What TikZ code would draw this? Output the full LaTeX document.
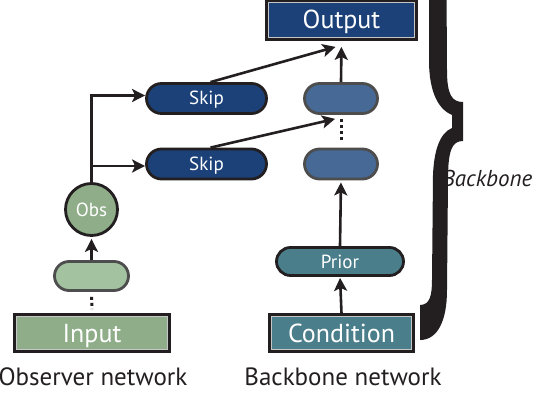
\documentclass[tikz,border=0pt]{standalone}
\usepackage{fontspec}
\setmainfont{PT Sans}
\usetikzlibrary{shapes.misc,shapes.geometric,arrows.meta,calc}
\definecolor{linec}{RGB}{35,31,32}
\definecolor{dkblue}{RGB}{27,65,120}
\definecolor{mdblue}{RGB}{70,105,150}
\definecolor{teal}{RGB}{75,126,139}
\definecolor{dkgreen}{RGB}{142,173,136}
\definecolor{ltgreen}{RGB}{163,195,160}
\definecolor{greyb}{RGB}{77,77,77}
\begin{document}
\begin{tikzpicture}[x=1pt,y=-1pt,
  lnk/.style={draw=linec, line width=2.6pt, -{Stealth[length=13pt,width=13pt,inset=3pt]}},
  dotline/.style={draw=linec, line width=3pt, dash pattern=on 3pt off 3pt},
  boxnode/.style={rectangle, draw=linec, line width=2.8pt, inner sep=0pt, text=white,
     font=\fontsize{26}{26}\selectfont, text height=18pt, text depth=0pt,
     path picture={\draw[gray!45,line width=0.9pt]
       ([shift={(2pt,-2pt)}]path picture bounding box.north west) rectangle
       ([shift={(-2pt,2pt)}]path picture bounding box.south east);}},
  pillnode/.style={rounded rectangle, draw=linec, line width=2.8pt, inner sep=0pt, text=white,
     font=\fontsize{19}{19}\selectfont, text height=13pt, text depth=0pt},
  caption/.style={font=\fontsize{25}{25}\selectfont, text=linec, inner sep=0pt}
]
\useasboundingbox (0,0) rectangle (544,420);
% nodes
\node[boxnode, fill=dkblue, minimum width=150pt, minimum height=39pt] (out) at (341.5,20) {Output};
\node[pillnode, fill=dkblue, minimum width=120pt, minimum height=30pt] (skip1) at (206.5,98.5) {Skip};
\node[pillnode, fill=dkblue, minimum width=120pt, minimum height=30pt] (skip2) at (206.5,164) {Skip};
\node[pillnode, fill=mdblue, draw=greyb, minimum width=73pt, minimum height=30pt] (b1) at (341,98.5) {};
\node[pillnode, fill=mdblue, draw=greyb, minimum width=73pt, minimum height=30pt] (b2) at (341,164) {};
\node[pillnode, fill=teal, minimum width=127pt, minimum height=28pt] (prior) at (340,261.5) {Prior};
\node[boxnode, fill=teal, minimum width=144pt, minimum height=37pt] (cond) at (341.5,333) {Condition};
\node[boxnode, fill=dkgreen, minimum width=155pt, minimum height=37pt] (inp) at (92,333) {Input};
\node[pillnode, fill=ltgreen, draw=greyb, minimum width=74pt, minimum height=29pt] (gp) at (91.5,276) {};
\node[circle, draw=linec, line width=2.8pt, fill=dkgreen, minimum size=52pt, inner sep=0pt,
      text=white, font=\fontsize{19}{19}\selectfont, text height=13pt, text depth=0pt] (obs) at (91.5,209.5) {Obs};
% captions
\node[caption] (capo) at (93,377) {Observer network};
\node[caption] (capb) at (343,377) {Backbone network};
\node[caption, font=\fontsize{23}{23}\selectfont\itshape, anchor=west] (bb) at (442,178) {Backbone};
% connectors
\draw[lnk] (obs.north) |- ($(skip1.west)+(0,-3)$);
\draw[lnk] (obs.north) |- ($(skip2.west)+(0,2)$);
\draw[lnk] ($(skip1.north)+(4,0)$) -- ($(out.south)+(-6,6)$);
\draw[lnk, shorten >=6pt] (b1.north) -- (out.south);
\draw[lnk] ($(skip2.north)+(4,0)$) -- ($(b1.south)+(-6,4)$);
\draw[dotline, shorten <=4.5pt, shorten >=6pt] (b1.south) -- (b2.north);
\draw[lnk, shorten >=2pt] (prior.north) -- (b2.south);
\draw[lnk, shorten >=1pt] (cond.north) -- (prior.south);
\draw[lnk, shorten >=2pt] (gp.north) -- (obs.south);
\draw[dotline, shorten <=5pt, shorten >=4pt] (gp.south) -- (inp.north);
% brace
\fill[linec] (429,-100) -- (429,60)
  .. controls (429,95) and (440,110) .. (452,115)
  -- (452,128)
  .. controls (440,133) and (434,150) .. (433,175)
  -- (432,280)
  .. controls (432,295) and (430,305) .. (420,305)
  -- (420,340)
  .. controls (438,340) and (447,320) .. (447,290)
  -- (448,180)
  .. controls (448,150) and (452,141) .. (463,141)
  -- (463,102)
  .. controls (452,102) and (447,95) .. (447,70)
  -- (446,-100) -- cycle;
\end{tikzpicture}
\end{document}
